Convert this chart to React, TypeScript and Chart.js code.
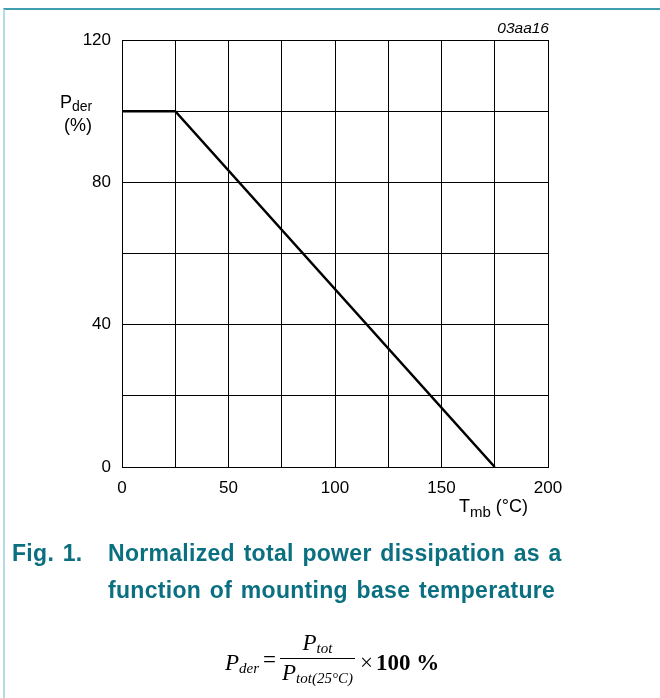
import React, { useEffect, useRef } from "react";
import { Chart, registerables } from "chart.js";

Chart.register(...registerables);

// Data
const tempC: number[] = [0, 25, 175];
const pderPct: number[] = [100, 100, 0];
const xTickLabels: number[] = [0, 50, 100, 150, 200];
const yTickLabels: number[] = [0, 40, 80, 120];

const FONT = "'Liberation Sans', Arial, Helvetica, sans-serif";
const TEAL = "#0a6f80";

export default function App() {
  const ref = useRef<HTMLCanvasElement | null>(null);

  useEffect(() => {
    if (!ref.current) return;
    const chart = new Chart(ref.current, {
      type: "line",
      data: {
        datasets: [
          {
            data: tempC.map((x, i) => ({ x, y: pderPct[i] })),
            borderColor: "#000",
            borderWidth: 2.5,
            pointRadius: 0,
            tension: 0,
            fill: false,
          },
        ],
      },
      options: {
        responsive: false,
        animation: false,
        layout: { padding: { left: 0, top: 40, right: 112, bottom: 0 } },
        plugins: { legend: { display: false }, tooltip: { enabled: false } },
        scales: {
          x: {
            type: "linear",
            min: 0,
            max: 200,
            afterFit: (s: any) => {
              s.height = 231;
            },
            ticks: {
              stepSize: 25,
              autoSkip: false,
              maxRotation: 0,
              padding: 11,
              color: "#000",
              font: { family: FONT, size: 17 },
              callback: (v: any) => (xTickLabels.includes(Number(v)) ? String(v) : ""),
            },
            grid: { color: "#000", lineWidth: 1, drawTicks: false },
            border: { display: true, color: "#000", width: 1 },
          },
          y: {
            type: "linear",
            min: 0,
            max: 120,
            afterFit: (s: any) => {
              s.width = 122;
            },
            ticks: {
              stepSize: 20,
              autoSkip: false,
              padding: 11,
              color: "#000",
              font: { family: FONT, size: 17 },
              callback: (v: any) => (yTickLabels.includes(Number(v)) ? String(v) : ""),
            },
            grid: { color: "#000", lineWidth: 1, drawTicks: false },
            border: { display: true, color: "#000", width: 1 },
          },
        },
      },
    });
    return () => chart.destroy();
  }, []);

  const abs = (style: React.CSSProperties): React.CSSProperties => ({
    position: "absolute",
    whiteSpace: "nowrap",
    ...style,
  });

  const capStyle: React.CSSProperties = {
    fontSize: 23,
    lineHeight: "23px",
    fontWeight: "bold",
    color: TEAL,
    letterSpacing: "0.3px",
    wordSpacing: "2px",
  };

  return (
    <div
      style={{
        position: "absolute",
        left: 0,
        top: 0,
        width: 660,
        height: 698,
        background: "#fff",
        fontFamily: FONT,
        overflow: "hidden",
      }}
    >
      <div
        style={abs({
          left: 3,
          top: 8,
          width: 657,
          height: 690,
          borderTop: "2px solid #3f9fb0",
          borderLeft: "2px solid #b2dce4",
          boxSizing: "border-box",
        })}
      />
      <canvas ref={ref} width={660} height={698} style={abs({ left: 0, top: 0 })} />

      <div style={abs({ right: 111, top: 20, fontSize: 15.5, lineHeight: "16px", fontStyle: "italic", color: "#000" })}>
        03aa16
      </div>

      <div style={abs({ left: 60, top: 93, fontSize: 18, lineHeight: "18px", color: "#000" })}>
        P<span style={{ fontSize: 14, position: "relative", top: 3 }}>der</span>
      </div>
      <div style={abs({ left: 64, top: 116, fontSize: 18, lineHeight: "18px", color: "#000" })}>(%)</div>

      <div style={abs({ left: 459, top: 497, fontSize: 18, lineHeight: "18px", color: "#000" })}>
        T<span style={{ fontSize: 15, position: "relative", top: 5 }}>mb</span> (°C)
      </div>

      <div style={abs({ left: 12, top: 542, ...capStyle })}>Fig. 1.</div>
      <div style={abs({ left: 108, top: 542, ...capStyle })}>Normalized total power dissipation as a</div>
      <div style={abs({ left: 108, top: 579, ...capStyle })}>function of mounting base temperature</div>

      <div
        style={abs({
          left: 225,
          top: 633,
          height: 52,
          display: "flex",
          alignItems: "center",
          fontFamily: "'Liberation Serif', 'Times New Roman', serif",
          fontSize: 23,
          color: "#000",
        })}
      >
        <span style={{ fontStyle: "italic", position: "relative", top: 4 }}>
          P<span style={{ fontSize: 15, position: "relative", top: 3 }}>der</span>
        </span>
        <span style={{ margin: "0 4px", position: "relative", top: 1 }}>=</span>
        <span style={{ display: "inline-flex", flexDirection: "column", alignItems: "center" }}>
          <span style={{ fontStyle: "italic", lineHeight: "25px", padding: "0 2px" }}>
            P<span style={{ fontSize: 15, position: "relative", top: 3 }}>tot</span>
          </span>
          <span style={{ borderTop: "1.5px solid #000", fontStyle: "italic", lineHeight: "27px", padding: "0 2px" }}>
            P<span style={{ fontSize: 15, position: "relative", top: 3 }}>tot(25°C)</span>
          </span>
        </span>
        <span style={{ marginLeft: 5, position: "relative", top: 4 }}>×</span>
        <span style={{ fontWeight: "bold", marginLeft: 3, position: "relative", top: 4 }}>100 %</span>
      </div>
    </div>
  );
}
